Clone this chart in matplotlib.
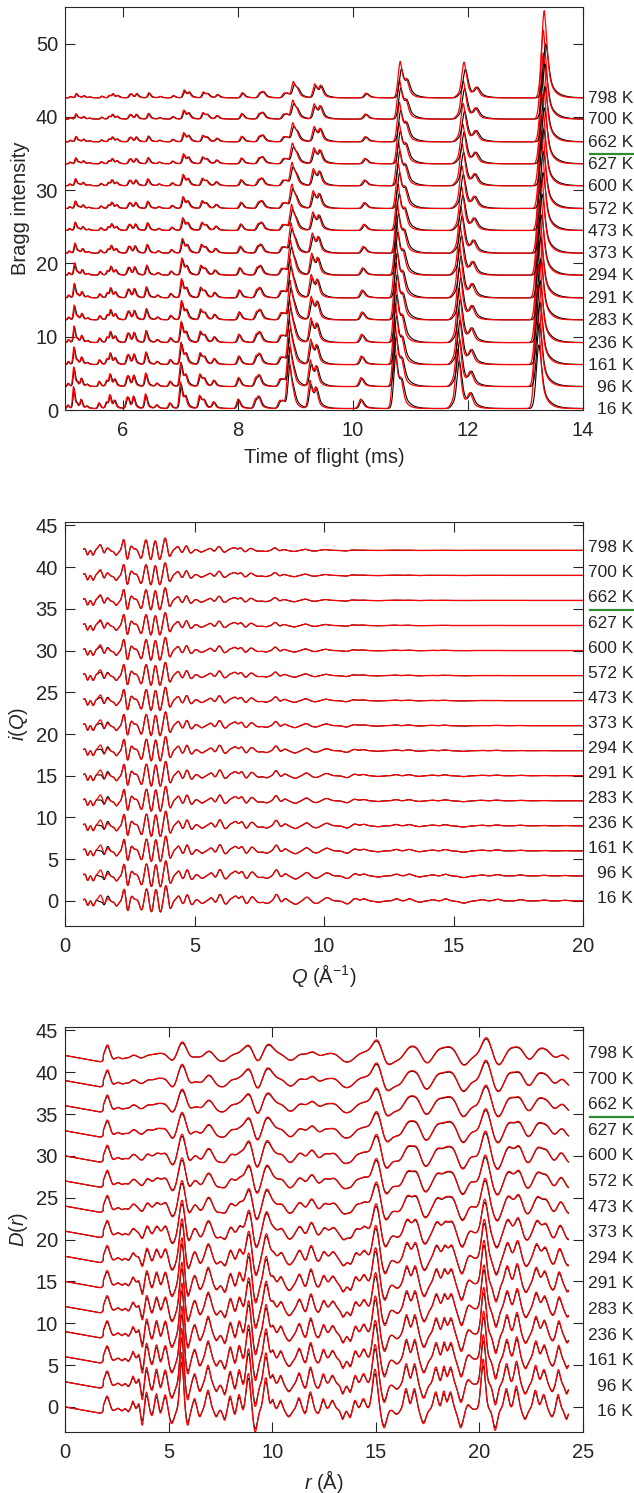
import numpy as np
import matplotlib.pyplot as plt

plt.rcParams['font.family'] = ['Liberation Sans', 'DejaVu Sans']
plt.rcParams['mathtext.fontset'] = 'custom'
plt.rcParams['mathtext.rm'] = 'Liberation Sans'
plt.rcParams['mathtext.it'] = 'Liberation Sans:italic'

temps = ['16 K', '96 K', '161 K', '236 K', '283 K', '291 K', '294 K', '373 K',
         '473 K', '572 K', '600 K', '627 K', '662 K', '700 K', '798 K']
# thermal damping read from peak heights (0 = 16 K, 1 = 798 K)
damp = [0, 0.07, 0.14, 0.18, 0.25, 0.26, 0.36, 0.48, 0.6, 0.66, 0.7, 0.8, 0.87, 0.88, 1.0]

# --- Bragg (time of flight) ---
bragg_base = [0.2, 3.2, 6.2, 9.2, 12.3, 15.3, 18.4, 21.4, 24.5, 27.5, 30.6, 33.6, 36.6, 39.7, 42.6]
bragg_pos = [5.05, 5.15, 5.21, 5.28, 5.38, 5.59, 5.72, 5.78, 5.86, 6.07, 6.10, 6.19, 6.40,
             6.59, 6.82, 7.01, 7.09, 7.34, 7.41, 7.58, 8.01, 8.31, 8.37, 8.73, 8.79, 8.89,
             8.96, 9.26, 9.36, 10.14, 10.73, 10.84, 11.73, 11.83, 12.04, 13.21]
bragg_h = [0.5, 3.0, 0.4, 1.2, 0.3, 0.8, 0.9, 1.8, 1.0, 1.0, 1.1, 1.6, 2.0,
           0.5, 0.8, 3.6, 1.4, 1.8, 1.0, 0.9, 1.3, 1.2, 1.4, 1.0, 0.8, 7.0,
           1.5, 3.8, 2.5, 1.3, 9.0, 3.0, 0.7, 8.0, 1.8, 14.0]
# height at 798 K relative to 16 K
bragg_ratio = [0.4, 0.2, 0.3, 0.25, 0.4, 0.3, 0.4, 0.3, 0.3, 0.35, 0.35, 0.35, 0.35,
               0.4, 0.4, 0.3, 0.5, 0.45, 0.5, 0.5, 0.55, 0.55, 0.5, 0.6, 0.6, 0.3,
               0.6, 0.5, 0.6, 0.5, 0.55, 0.65, 0.6, 0.6, 0.7, 0.85]
# observed / calculated height
bragg_obs = [0.9] * 25 + [0.8, 0.9, 0.85, 0.9, 0.9, 0.8, 0.9, 0.9, 0.8, 0.9, 0.62]

# --- i(Q) ---
iq_offset = [3 * i for i in range(15)]
iq_pos = [0.78, 0.87, 0.99, 1.09, 1.22, 1.37, 1.52, 1.65, 1.82, 1.99, 2.12, 2.29, 2.42,
          2.57, 2.75, 2.96, 3.15, 3.34, 3.51, 3.68, 3.90, 4.06, 4.24, 4.39, 4.56, 4.72,
          4.90, 5.06, 5.30, 5.66, 5.80, 5.99, 6.20, 6.45, 6.60, 6.84, 7.00, 7.23, 7.50,
          7.80, 8.17, 8.35, 8.50, 8.90, 9.34, 9.70, 10.12, 10.90, 11.20, 11.55, 12.10,
          12.80, 13.30, 13.70, 14.20, 14.70, 15.40, 16.10, 16.70, 17.60, 18.50, 19.30]
iq_amp = [0.3, -0.6, 0.1, -0.6, 0.1, 0.7, -0.4, 0.3, -0.1, -0.6, -0.1, 1.5, -1.3,
          0.6, 0.2, -1.1, 1.5, -1.4, 1.5, -1.4, 1.9, -1.0, 0.1, 0.6, -0.4, 0.8,
          -0.5, 0.2, -0.3, 0.4, -0.3, 0.8, -0.4, 0.3, 0.5, 0.6, -0.4, 0.5, -0.2,
          -0.3, 0.8, -0.2, 0.3, -0.4, 0.45, -0.3, 0.4, -0.35, 0.3, 0.25, -0.15,
          0.25, 0.25, -0.15, 0.15, 0.25, -0.25, 0.15, 0.2, 0.15, 0.1, 0.08]
iq_obs_amp = [0.3, -0.6, 0.1, -0.6, 0.1, -0.1, -0.5, 0.6] + iq_amp[8:]
iq_wid = [0.05, 0.05, 0.05, 0.05, 0.05, 0.07, 0.05, 0.06, 0.06, 0.06, 0.05, 0.06, 0.06,
          0.06, 0.06, 0.07, 0.07, 0.07, 0.07, 0.07, 0.07, 0.07, 0.06, 0.07, 0.07, 0.07,
          0.08, 0.08, 0.08, 0.09, 0.07, 0.08, 0.08, 0.09, 0.07, 0.08, 0.08, 0.09, 0.10,
          0.10, 0.08, 0.08, 0.08, 0.12, 0.10, 0.12, 0.12, 0.12, 0.10, 0.10, 0.12,
          0.10, 0.10, 0.10, 0.10, 0.10, 0.15, 0.12, 0.12, 0.12, 0.12, 0.12]

# --- D(r) ---
dr_offset = [3 * i for i in range(15)]
dr_pos = [2.03, 2.30, 2.55, 2.75, 2.90, 3.05, 3.28, 3.57, 3.73, 3.93, 4.20, 4.41, 4.60,
          4.84, 5.15, 5.63, 5.92, 6.25, 6.50, 6.90, 7.30, 7.70, 7.97, 8.20, 8.40, 8.60,
          8.85, 9.18, 9.69, 10.02, 10.40, 10.80, 11.29, 11.60, 11.84, 12.20, 12.46, 12.90,
          13.40, 13.75, 14.00, 14.40, 14.96, 15.40, 16.00, 16.46, 16.86, 17.30, 17.89,
          18.28, 18.60, 19.10, 19.45, 20.18, 20.76, 21.30, 21.78, 22.20, 22.70, 23.10,
          23.50, 23.80, 24.20]
dr_amp = [1.6, -0.2, 0.15, -0.2, 0.1, -0.3, 1.0, 0.8, -2.0, 2.1, -0.8, 1.9, -0.6,
          1.8, -1.7, 6.8, -1.9, 1.3, -0.9, 2.3, -0.9, -1.3, 1.6, -0.7, 1.8, -0.3,
          4.3, -2.7, 3.8, 1.2, 1.1, -0.9, 1.4, -0.6, 2.1, -0.5, 1.3, 1.1,
          -1.2, -1.0, 1.1, 1.3, 4.8, -2.2, -0.6, 2.5, 2.5, -1.7, 2.1,
          2.2, 2.1, -2.2, 0.6, 6.0, -2.5, 2.5, 2.8, -1.2, 2.3, 1.8,
          -0.9, 1.8, -1.2]
dr_wid = [0.11, 0.08, 0.05, 0.05, 0.05, 0.05, 0.06, 0.06, 0.07, 0.08, 0.08, 0.08, 0.07,
          0.09, 0.12, 0.08, 0.08, 0.08, 0.08, 0.10, 0.08, 0.08, 0.08, 0.07, 0.08, 0.06,
          0.10, 0.10, 0.10, 0.07, 0.08, 0.12, 0.09, 0.08, 0.10, 0.10, 0.08, 0.10,
          0.08, 0.08, 0.08, 0.10, 0.12, 0.12, 0.12, 0.10, 0.10, 0.12, 0.10,
          0.08, 0.10, 0.12, 0.10, 0.10, 0.10, 0.10, 0.10, 0.10, 0.10, 0.10,
          0.10, 0.08, 0.08]


def tof_peak(t, p, h, tail):
    # sharp rise, exponential tail (time-of-flight profile)
    sig = 0.0035 * p
    tau = 0.007 * p * tail
    d = t - p
    g = np.exp(-0.5 * (d / sig) ** 2)
    e = np.exp(-np.clip(d, 0, None) / tau)
    return h * np.where(d < 0, g, 0.45 * g + 0.55 * e)


def gauss(x, p, a, s):
    return a * np.exp(-0.5 * ((x - p) / s) ** 2)


fig = plt.figure(figsize=(6.34, 14.93), dpi=100)
W, H = 634.0, 1493.0


def box(l, t, r, b):
    return [l / W, 1 - b / H, (r - l) / W, (b - t) / H]


ax1 = fig.add_axes(box(65, 7, 583, 410))
ax2 = fig.add_axes(box(65, 522, 583, 926))
ax3 = fig.add_axes(box(65, 1027, 583, 1432))

dark = '#262626'
lab_x = (633 - 65) / 518.0
green_x = [(590 - 65) / 518.0, (634 - 65) / 518.0]

# Bragg panel
t = np.linspace(5, 14, 4501)
for i in range(15):
    u = damp[i]
    calc = np.full_like(t, bragg_base[i])
    obs = np.full_like(t, bragg_base[i])
    for p, h, r, o in zip(bragg_pos, bragg_h, bragg_ratio, bragg_obs):
        pt = p * (1 + 0.009 * u)
        ht = h * r ** u
        calc += tof_peak(t, pt, ht, 1.0)
        obs += tof_peak(t, pt * 1.002, ht * o, 1.3)
    ax1.plot(t, obs, color='k', lw=0.8)
    ax1.plot(t, calc, color='r', lw=0.9)

# i(Q) panel
q = np.arange(0.72, 20.0, 0.004)
for i in range(15):
    u = damp[i]
    calc = np.full_like(q, iq_offset[i], dtype=float)
    obs = np.full_like(q, iq_offset[i], dtype=float)
    for p, a, ao, s in zip(iq_pos, iq_amp, iq_obs_amp, iq_wid):
        pq = p / (1 + 0.008 * u)
        f = np.exp(-0.014 * u * p ** 2)
        calc += gauss(q, pq, a * f, s)
        obs += gauss(q, pq, (ao + (a - ao) * u) * f, s)
    ax2.plot(q, obs, color='k', lw=0.8)
    ax2.plot(q, calc, color='r', lw=0.9)

# D(r) panel
r = np.arange(0, 24.3, 0.005)
for i in range(15):
    u = damp[i]
    base = np.where(r < 1.85, -0.45 * r, -0.3) + dr_offset[i]
    calc = base.copy()
    obs = base.copy()
    for p, a, s in zip(dr_pos, dr_amp, dr_wid):
        rigid = np.clip((p - 2.2) / 1.5, 0.1, 1.0)
        b = 0.22 * u * rigid
        st = np.sqrt(s ** 2 + b ** 2)
        so = np.sqrt(st ** 2 + 0.045 ** 2)
        pr = p * (1 + 0.008 * u)
        calc += gauss(r, pr, a * s / st, st)
        obs += gauss(r, pr, 0.95 * a * s / so, so)
    ax3.plot(r, obs, color='k', lw=0.8)
    ax3.plot(r, calc, color='r', lw=0.9)

ax1.set_xlim(5, 14)
ax1.set_ylim(0, 55)
ax1.set_xticks([6, 8, 10, 12, 14])
ax1.set_yticks(range(0, 51, 10))
ax1.set_xlabel('Time of flight (ms)', fontsize=14.5, color=dark, labelpad=6)
ax1.set_ylabel('Bragg intensity', fontsize=14.5, color=dark, labelpad=4)

ax2.set_xlim(0, 20)
ax2.set_ylim(-3, 45.4)
ax2.set_xticks(range(0, 21, 5))
ax2.set_yticks(range(0, 46, 5))
ax2.set_xlabel(r'$Q$ (Å$^{-1}$)', fontsize=14.5, color=dark, labelpad=4)
ax2.set_ylabel(r'$i$($Q$)', fontsize=14.5, color=dark, labelpad=4)

ax3.set_xlim(0, 25)
ax3.set_ylim(-3, 45.4)
ax3.set_xticks(range(0, 26, 5))
ax3.set_yticks(range(0, 46, 5))
ax3.set_xlabel(r'$r$ (Å)', fontsize=14.5, color=dark, labelpad=4)
ax3.set_ylabel(r'$D$($r$)', fontsize=14.5, color=dark, labelpad=4)

label_y1 = [b - 0.1 for b in bragg_base]
label_y2 = [o + 0.3 for o in iq_offset]
label_y3 = [o * 1.02 - 0.6 for o in dr_offset]

for ax, ly in [(ax1, label_y1), (ax2, label_y2), (ax3, label_y3)]:
    ax.tick_params(direction='in', top=True, right=True, length=7, width=0.8,
                   labelsize=14.5, colors=dark)
    ax.tick_params(axis='x', pad=8)
    ax.tick_params(axis='y', pad=5)
    for sp in ax.spines.values():
        sp.set_color(dark)
        sp.set_linewidth(0.8)
    for name, y in zip(temps, ly):
        ax.text(lab_x, y, name, transform=ax.get_yaxis_transform(), ha='right',
                va='center', fontsize=12.5, color=dark, clip_on=False)
    gy = 0.5 * (ly[12] + ly[11])
    ax.plot(green_x, [gy, gy], color='#2e8b2e', lw=1.6,
            transform=ax.get_yaxis_transform(), clip_on=False)

fig.savefig('out.png', dpi=100)
